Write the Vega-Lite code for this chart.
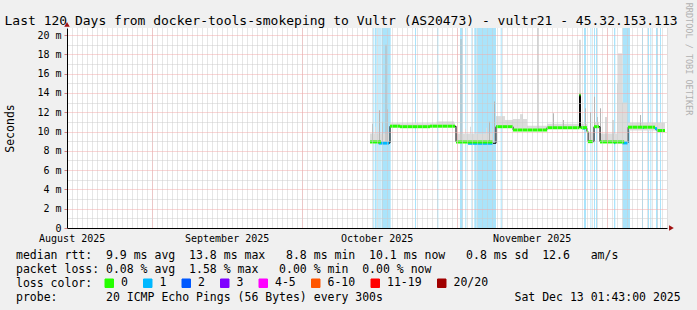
{
  "$schema": "https://vega.github.io/schema/vega-lite/v6.json",
  "width": 600,
  "height": 200,
  "autosize": {"type": "none"},
  "padding": {"left": 67, "top": 28, "right": 30, "bottom": 82},
  "background": "#f0f0f0",
  "config": {
    "view": {"fill": "#ffffff", "stroke": null},
    "font": "DejaVu Sans Mono",
    "axis": {"labelFont": "DejaVu Sans Mono", "titleFont": "DejaVu Sans Mono", "titleFontWeight": "normal", "labelColor": "#000000", "titleColor": "#000000"}
  },
  "datasets": {
    "bands": [
      {"t0": "2025-10-15T08:00", "t1": "2025-10-15T12:48"},
      {"t0": "2025-10-15T16:06", "t1": "2025-10-16T00:17"},
      {"t0": "2025-10-16T05:05", "t1": "2025-10-16T09:53"},
      {"t0": "2025-10-16T12:46", "t1": "2025-10-16T19:30"},
      {"t0": "2025-10-16T23:20", "t1": "2025-10-18T19:30"},
      {"t0": "2025-10-23T16:08", "t1": "2025-10-23T20:56"},
      {"t0": "2025-10-28T03:10", "t1": "2025-10-28T08:00"},
      {"t0": "2025-11-01T16:06", "t1": "2025-11-02T05:06"},
      {"t0": "2025-11-02T17:36", "t1": "2025-11-02T22:24"},
      {"t0": "2025-11-03T23:18", "t1": "2025-11-04T03:12"},
      {"t0": "2025-11-04T12:48", "t1": "2025-11-05T00:18"},
      {"t0": "2025-11-05T03:12", "t1": "2025-11-08T20:54"},
      {"t0": "2025-11-09T19:30", "t1": "2025-11-10T00:18"},
      {"t0": "2025-11-26T11:18", "t1": "2025-11-26T20:54"},
      {"t0": "2025-11-27T18:30", "t1": "2025-11-27T22:24"},
      {"t0": "2025-11-28T11:18", "t1": "2025-11-28T16:06"},
      {"t0": "2025-11-28T20:54", "t1": "2025-11-29T01:42"},
      {"t0": "2025-12-02T11:18", "t1": "2025-12-02T17:36"},
      {"t0": "2025-12-04T05:06", "t1": "2025-12-05T16:06"},
      {"t0": "2025-12-08T01:42", "t1": "2025-12-08T06:30"},
      {"t0": "2025-12-09T06:30", "t1": "2025-12-09T11:18"},
      {"t0": "2025-12-09T17:36", "t1": "2025-12-09T22:24"},
      {"t0": "2025-12-10T20:54", "t1": "2025-12-11T05:06"},
      {"t0": "2025-12-11T16:06", "t1": "2025-12-11T20:54"}
    ],
    "smoke": [
      {"t0": "2025-10-14T16:06", "t1": "2025-10-18T11:20", "lo": 8.8, "hi": 9.8, "level": "smoke"},
      {"t0": "2025-10-15T16:06", "t1": "2025-10-15T20:56", "lo": 8.9, "hi": 10.5, "level": "smoke"},
      {"t0": "2025-10-18T16:08", "t1": "2025-10-31T16:08", "lo": 10.5, "hi": 10.85, "level": "smoke"},
      {"t0": "2025-10-28T00:00", "t1": "2025-10-31T12:00", "lo": 10.5, "hi": 11.05, "level": "smoke"},
      {"t0": "2025-10-31T20:56", "t1": "2025-11-08T06:30", "lo": 8.8, "hi": 9.8, "level": "smoke"},
      {"t0": "2025-11-02T16:06", "t1": "2025-11-02T20:54", "lo": 8.9, "hi": 10.3, "level": "smoke"},
      {"t0": "2025-11-03T16:06", "t1": "2025-11-03T20:54", "lo": 8.9, "hi": 10.5, "level": "smoke"},
      {"t0": "2025-11-06T20:54", "t1": "2025-11-07T01:42", "lo": 8.9, "hi": 10.4, "level": "smoke"},
      {"t0": "2025-11-08T01:42", "t1": "2025-11-08T06:30", "lo": 8.9, "hi": 10.3, "level": "smoke"},
      {"t0": "2025-11-08T20:54", "t1": "2025-11-12T06:30", "lo": 10.5, "hi": 11.2, "level": "smoke"},
      {"t0": "2025-11-08T20:54", "t1": "2025-11-10T16:06", "lo": 10.5, "hi": 11.6, "level": "smoke"},
      {"t0": "2025-11-12T06:30", "t1": "2025-11-15T01:42", "lo": 10.15, "hi": 11.3, "level": "smoke"},
      {"t0": "2025-11-13T16:06", "t1": "2025-11-14T06:30", "lo": 10.15, "hi": 11.8, "level": "smoke"},
      {"t0": "2025-11-15T01:42", "t1": "2025-11-19T01:42", "lo": 10.15, "hi": 10.6, "level": "smoke"},
      {"t0": "2025-11-19T01:42", "t1": "2025-11-25T13:42", "lo": 10.4, "hi": 10.8, "level": "smoke"},
      {"t0": "2025-11-25T18:30", "t1": "2025-11-27T01:42", "lo": 10.4, "hi": 10.8, "level": "smoke"},
      {"t0": "2025-11-27T06:30", "t1": "2025-11-28T06:30", "lo": 8.95, "hi": 9.9, "level": "smoke"},
      {"t0": "2025-11-28T11:18", "t1": "2025-11-29T11:18", "lo": 10.5, "hi": 11.0, "level": "smoke"},
      {"t0": "2025-11-29T16:06", "t1": "2025-12-05T06:30", "lo": 8.85, "hi": 9.8, "level": "smoke"},
      {"t0": "2025-12-03T01:42", "t1": "2025-12-03T06:30", "lo": 8.9, "hi": 15.0, "level": "smoke"},
      {"t0": "2025-12-03T06:30", "t1": "2025-12-04T01:42", "lo": 8.9, "hi": 18.1, "level": "smoke"},
      {"t0": "2025-12-04T01:42", "t1": "2025-12-05T01:42", "lo": 8.9, "hi": 13.0, "level": "smoke"},
      {"t0": "2025-12-05T06:30", "t1": "2025-12-12T16:06", "lo": 10.1, "hi": 10.9, "level": "smoke"},
      {"t0": "2025-10-15T01:44", "t1": "2025-10-15T06:32", "lo": 8.9, "hi": 10.8, "level": "spike"},
      {"t0": "2025-10-16T11:20", "t1": "2025-10-16T16:08", "lo": 8.9, "hi": 12.2, "level": "spike"},
      {"t0": "2025-10-17T01:44", "t1": "2025-10-17T06:32", "lo": 8.9, "hi": 11.0, "level": "spike"},
      {"t0": "2025-10-17T18:32", "t1": "2025-10-17T23:20", "lo": 8.9, "hi": 19.0, "level": "spike"},
      {"t0": "2025-10-18T01:44", "t1": "2025-10-18T06:32", "lo": 8.9, "hi": 12.3, "level": "spike"},
      {"t0": "2025-11-01T18:30", "t1": "2025-11-01T23:18", "lo": 8.9, "hi": 19.6, "level": "spike"},
      {"t0": "2025-11-07T11:18", "t1": "2025-11-07T16:06", "lo": 8.9, "hi": 11.0, "level": "spike"},
      {"t0": "2025-11-08T11:18", "t1": "2025-11-08T16:06", "lo": 8.9, "hi": 13.1, "level": "spike"},
      {"t0": "2025-11-17T04:06", "t1": "2025-11-17T08:54", "lo": 10.15, "hi": 20.73, "level": "spike"},
      {"t0": "2025-11-20T06:30", "t1": "2025-11-20T11:18", "lo": 10.4, "hi": 11.9, "level": "spike"},
      {"t0": "2025-11-22T06:30", "t1": "2025-11-22T11:18", "lo": 10.4, "hi": 11.2, "level": "spike"},
      {"t0": "2025-11-25T13:42", "t1": "2025-11-25T18:30", "lo": 10.4, "hi": 19.5, "level": "spike"},
      {"t0": "2025-11-26T16:06", "t1": "2025-11-26T20:54", "lo": 10.4, "hi": 12.4, "level": "spike"},
      {"t0": "2025-11-27T16:06", "t1": "2025-11-27T20:54", "lo": 8.95, "hi": 12.0, "level": "spike"},
      {"t0": "2025-11-28T11:18", "t1": "2025-11-28T16:06", "lo": 10.5, "hi": 13.6, "level": "spike"},
      {"t0": "2025-11-29T01:42", "t1": "2025-11-29T06:30", "lo": 10.5, "hi": 11.5, "level": "spike"},
      {"t0": "2025-11-29T16:06", "t1": "2025-11-29T20:54", "lo": 8.9, "hi": 12.4, "level": "spike"},
      {"t0": "2025-11-30T18:30", "t1": "2025-11-30T23:18", "lo": 8.9, "hi": 11.5, "level": "spike"},
      {"t0": "2025-12-02T04:06", "t1": "2025-12-02T08:54", "lo": 8.9, "hi": 11.2, "level": "spike"},
      {"t0": "2025-12-07T16:06", "t1": "2025-12-07T20:54", "lo": 10.45, "hi": 11.7, "level": "spike"}
    ],
    "median": [
      {"t0": "2025-10-16T09:53", "t1": "2025-10-18T11:20", "ms": 8.8, "loss": "1"},
      {"t0": "2025-11-03T06:30", "t1": "2025-11-08T06:30", "ms": 8.78, "loss": "1"},
      {"t0": "2025-11-26T01:42", "t1": "2025-11-26T16:06", "ms": 10.35, "loss": "1"},
      {"t0": "2025-12-02T11:18", "t1": "2025-12-02T17:36", "ms": 8.85, "loss": "1"},
      {"t0": "2025-12-04T01:42", "t1": "2025-12-05T06:30", "ms": 8.82, "loss": "1"},
      {"t0": "2025-12-08T01:42", "t1": "2025-12-08T11:18", "ms": 10.42, "loss": "1"},
      {"t0": "2025-12-10T16:06", "t1": "2025-12-11T01:42", "ms": 10.3, "loss": "1"},
      {"t0": "2025-10-14T16:06", "t1": "2025-10-16T20:56", "ms": 8.92, "loss": "0"},
      {"t0": "2025-10-18T16:08", "t1": "2025-10-20T16:08", "ms": 10.55, "loss": "0"},
      {"t0": "2025-10-20T16:08", "t1": "2025-10-26T16:08", "ms": 10.5, "loss": "0"},
      {"t0": "2025-10-26T16:08", "t1": "2025-10-31T16:08", "ms": 10.55, "loss": "0"},
      {"t0": "2025-10-31T20:56", "t1": "2025-11-08T06:30", "ms": 8.92, "loss": "0"},
      {"t0": "2025-11-08T20:54", "t1": "2025-11-12T06:30", "ms": 10.5, "loss": "0"},
      {"t0": "2025-11-12T06:30", "t1": "2025-11-19T01:42", "ms": 10.15, "loss": "0"},
      {"t0": "2025-11-19T01:42", "t1": "2025-11-25T13:42", "ms": 10.4, "loss": "0"},
      {"t0": "2025-11-25T13:42", "t1": "2025-11-25T18:30", "ms": 13.8, "loss": "0"},
      {"t0": "2025-11-25T18:30", "t1": "2025-11-27T01:42", "ms": 10.4, "loss": "0"},
      {"t0": "2025-11-27T01:42", "t1": "2025-11-27T06:30", "ms": 10.0, "loss": "0"},
      {"t0": "2025-11-27T06:30", "t1": "2025-11-28T06:30", "ms": 8.95, "loss": "0"},
      {"t0": "2025-11-28T11:18", "t1": "2025-11-29T11:18", "ms": 10.5, "loss": "0"},
      {"t0": "2025-11-29T16:06", "t1": "2025-12-04T12:00", "ms": 8.92, "loss": "0"},
      {"t0": "2025-12-05T06:30", "t1": "2025-12-10T16:06", "ms": 10.45, "loss": "0"},
      {"t0": "2025-12-11T01:42", "t1": "2025-12-12T16:06", "ms": 10.1, "loss": "0"}
    ]
  },
  "resolve": {"axis": {"x": "independent", "y": "independent"}},
  "layer": [
    {
      "data": {"name": "bands"},
      "mark": {"type": "rect", "color": "#aae4fb"},
      "encoding": {
        "x": {"field": "t0", "type": "temporal",
          "scale": {"domain": [{"year": 2025, "month": 8, "date": 15, "hours": 1, "minutes": 43}, {"year": 2025, "month": 12, "date": 13, "hours": 1, "minutes": 43}]},
          "axis": {"orient": "top", "grid": false, "labels": false, "ticks": false, "domain": false,
            "title": "Last 120 Days from docker-tools-smokeping to Vultr (AS20473) - vultr21 - 45.32.153.113",
            "titleX": -63, "titleY": -4, "titleAlign": "left", "titleAnchor": "start", "titleBaseline": "alphabetic", "titleFontSize": 13}},
        "x2": {"field": "t1"}
      }
    },
    {
      "data": {"name": "smoke"},
      "mark": {"type": "rect"},
      "encoding": {
        "x": {"field": "t0", "type": "temporal",
          "scale": {"domain": [{"year": 2025, "month": 8, "date": 15, "hours": 1, "minutes": 43}, {"year": 2025, "month": 12, "date": 13, "hours": 1, "minutes": 43}]},
          "axis": {"orient": "bottom", "grid": true, "gridColor": "#cccccc", "gridDash": [1, 1], "tickCount": {"interval": "day", "step": 1}, "labels": false, "ticks": false, "domain": false, "title": null, "zindex": 1}},
        "x2": {"field": "t1"},
        "y": {"field": "lo", "type": "quantitative",
          "scale": {"domain": [0, 20.73], "nice": false, "zero": true},
          "axis": {"orient": "left", "grid": true, "gridColor": "#cccccc", "gridDash": [1, 1], "values": [1, 3, 5, 7, 9, 11, 13, 15, 17, 19], "labels": false, "ticks": false, "domain": false, "title": null, "zindex": 1}},
        "y2": {"field": "hi"},
        "fill": {"field": "level", "type": "nominal", "scale": {"domain": ["smoke", "spike"], "range": ["#dcdcdc", "#b4b4b4"]}, "legend": null}
      }
    },
    {
      "data": {"name": "median"},
      "mark": {"type": "line", "interpolate": "step-after", "color": "#000000", "strokeWidth": 1},
      "encoding": {
        "x": {"field": "t0", "type": "temporal",
          "scale": {"domain": [{"year": 2025, "month": 8, "date": 15, "hours": 1, "minutes": 43}, {"year": 2025, "month": 12, "date": 13, "hours": 1, "minutes": 43}]},
          "axis": {"orient": "bottom", "grid": true, "gridColor": "#f2aaaa", "gridDash": [1, 1],
            "values": [{"year": 2025, "month": 9, "date": 1}, {"year": 2025, "month": 10, "date": 1}, {"year": 2025, "month": 11, "date": 1}, {"year": 2025, "month": 12, "date": 1}],
            "labels": false, "ticks": false, "domain": false, "title": null, "zindex": 1}},
        "y": {"field": "ms", "type": "quantitative",
          "scale": {"domain": [0, 20.73], "nice": false, "zero": true},
          "axis": {"orient": "left", "grid": true, "gridColor": "#f2aaaa", "gridDash": [1, 1], "values": [0, 2, 4, 6, 8, 10, 12, 14, 16, 18, 20],
            "labelExpr": "datum.value == 0 ? '0' : datum.value + ' m'", "labelFontSize": 10, "labelPadding": 3,
            "ticks": true, "tickSize": 3, "tickColor": "#d08080", "domain": true, "domainColor": "#000000",
            "title": "Seconds", "titleFontSize": 11.5, "titleX": -57, "titleY": 100, "titleAngle": 270, "titleAlign": "center", "titleBaseline": "middle", "zindex": 1}}
      }
    },
    {
      "data": {"name": "median"},
      "mark": {"type": "rule", "strokeWidth": 3},
      "encoding": {
        "x": {"field": "t0", "type": "temporal",
          "scale": {"domain": [{"year": 2025, "month": 8, "date": 15, "hours": 1, "minutes": 43}, {"year": 2025, "month": 12, "date": 13, "hours": 1, "minutes": 43}]},
          "axis": {"orient": "bottom", "values": [{"year": 2025, "month": 8, "date": 16}, {"year": 2025, "month": 9, "date": 16}, {"year": 2025, "month": 10, "date": 16}, {"year": 2025, "month": 11, "date": 16}],
            "format": "%B %Y", "labelFontSize": 10, "labelPadding": 5, "labelFlush": false, "labelOverlap": false, "labelBound": false,
            "ticks": false, "grid": false, "domain": true, "domainColor": "#000000",
            "title": ["median rtt:\u00a0\u00a09.9 ms avg\u00a0\u00a013.8 ms max\u00a0\u00a0\u00a08.8 ms min\u00a0\u00a010.1 ms now\u00a0\u00a0\u00a00.8 ms sd\u00a0\u00a012.6\u00a0\u00a0\u00a0am/s",
              "packet loss: 0.08 % avg\u00a0\u00a01.58 % max\u00a0\u00a0\u00a00.00 % min\u00a0\u00a00.00 % now",
              "loss color:",
              "probe:\u00a0\u00a0\u00a0\u00a0\u00a0\u00a0\u00a020 ICMP Echo Pings (56 Bytes) every 300s\u00a0\u00a0\u00a0\u00a0\u00a0\u00a0\u00a0\u00a0\u00a0\u00a0\u00a0\u00a0\u00a0\u00a0\u00a0\u00a0\u00a0\u00a0\u00a0Sat Dec 13 01:43:00 2025"],
            "titleX": -51.5, "titleY": 30.7, "titleAlign": "left", "titleAnchor": "start", "titleBaseline": "alphabetic", "titleFontSize": 11.5, "titleLineHeight": 14, "zindex": 1}},
        "x2": {"field": "t1"},
        "y": {"field": "ms", "type": "quantitative",
          "scale": {"domain": [0, 20.73], "nice": false, "zero": true},
          "axis": {"orient": "right", "labels": false, "ticks": false, "domain": false, "grid": false,
            "title": "RRDTOOL / TOBI OETIKER", "titleAngle": 90, "titleX": 21, "titleY": 30.5, "titleAlign": "center", "titleBaseline": "middle", "titleColor": "#b0b0b0", "titleFontSize": 8.5}},
        "color": {"field": "loss", "type": "nominal",
          "scale": {"domain": ["0", "1", "2", "3", "4-5", "6-10", "11-19", "20/20"], "range": ["#26ff00", "#00b8ff", "#0059ff", "#7e00ff", "#ff00ff", "#ff5500", "#ff0000", "#a10000"]},
          "legend": {"orient": "none", "legendX": 36.5, "legendY": 249.5, "direction": "horizontal", "title": null,
            "symbolType": "square", "symbolSize": 72, "symbolStrokeWidth": 1,
            "labelFont": "DejaVu Sans Mono", "labelFontSize": 11.5, "labelColor": "#000000", "labelOffset": 6, "columnPadding": 12.5, "padding": 0,
            "encode": {"symbols": {"update": {"fill": {"scale": "color", "field": "value"}, "fillOpacity": {"value": 1}, "stroke": {"value": "#000000"}, "strokeWidth": {"value": 1}}}}}}
      }
    },
    {
      "data": {"values": [{}]},
      "mark": {"type": "point", "shape": "triangle-right", "filled": true, "color": "#a01010", "size": 30, "opacity": 1},
      "encoding": {
        "x": {"datum": {"year": 2025, "month": 12, "date": 13, "hours": 23}, "type": "temporal",
          "scale": {"domain": [{"year": 2025, "month": 8, "date": 15, "hours": 1, "minutes": 43}, {"year": 2025, "month": 12, "date": 13, "hours": 1, "minutes": 43}]}, "axis": null},
        "y": {"datum": 0, "type": "quantitative", "scale": {"domain": [0, 20.73], "nice": false, "zero": true}, "axis": null}
      }
    },
    {
      "data": {"values": [{}]},
      "mark": {"type": "point", "shape": "triangle-up", "filled": true, "color": "#a01010", "size": 30, "opacity": 1},
      "encoding": {
        "x": {"datum": {"year": 2025, "month": 8, "date": 15, "hours": 1, "minutes": 43}, "type": "temporal",
          "scale": {"domain": [{"year": 2025, "month": 8, "date": 15, "hours": 1, "minutes": 43}, {"year": 2025, "month": 12, "date": 13, "hours": 1, "minutes": 43}]}, "axis": null},
        "y": {"datum": 21.1, "type": "quantitative", "scale": {"domain": [0, 20.73], "nice": false, "zero": true}, "axis": null}
      }
    }
  ]
}
